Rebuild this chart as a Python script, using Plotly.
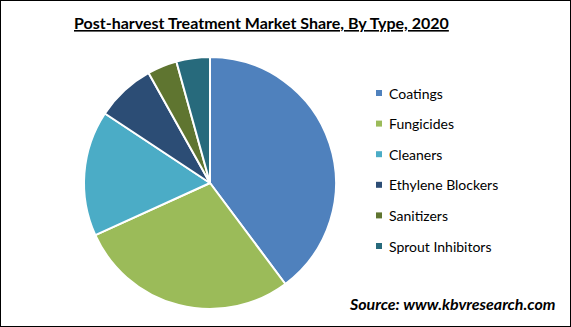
import plotly.graph_objects as go

title = "Post-harvest Treatment Market Share, By Type, 2020"
source = "Source: www.kbvresearch.com"
labels = ["Coatings", "Fungicides", "Cleaners", "Ethylene Blockers", "Sanitizers", "Sprout Inhibitors"]
values = [39.8, 28.4, 16.1, 7.6, 3.8, 4.3]
colors = ["#4F81BD", "#9BBB59", "#4BACC6", "#2C4D75", "#5F7530", "#276A7C"]

W, H = 571, 327
fig = go.Figure()
fig.add_trace(go.Pie(
    labels=labels, values=values, sort=False, direction="clockwise", rotation=0,
    marker=dict(colors=colors, line=dict(color="white", width=2)),
    textinfo="none", hoverinfo="label+percent", showlegend=False,
    domain=dict(x=[84 / W, 336 / W], y=[(H - 309) / H, (H - 57) / H]),
))

shapes = [dict(type="rect", xref="paper", yref="paper", x0=0, y0=0, x1=1, y1=1,
               line=dict(color="black", width=2))]
annotations = [
    dict(text="<u><b>" + title + "</b></u>", x=261 / W, y=1 - 23 / H, xref="paper", yref="paper",
         xanchor="center", yanchor="middle", showarrow=False,
         font=dict(family="Lato", size=16, color="black")),
    dict(text="<b><i>" + source + "</i></b>", x=558 / W, y=1 - 303 / H, xref="paper", yref="paper",
         xanchor="right", yanchor="middle", showarrow=False,
         font=dict(family="Lato", size=16, color="black")),
]
ly0, lgap = 93, 30.6
for i, (lab, col) in enumerate(zip(labels, colors)):
    yc = ly0 + i * lgap
    shapes.append(dict(type="rect", xref="paper", yref="paper",
                       x0=376 / W, x1=382 / W, y0=1 - (yc + 3) / H, y1=1 - (yc - 3) / H,
                       fillcolor=col, line=dict(width=0)))
    annotations.append(dict(text=lab, x=387 / W, y=1 - yc / H, xref="paper", yref="paper",
                            xanchor="left", yanchor="middle", showarrow=False,
                            font=dict(family="Lato", size=14, color="black")))

fig.update_layout(width=W, height=H, margin=dict(l=0, r=0, t=0, b=0),
                  paper_bgcolor="white", plot_bgcolor="white",
                  shapes=shapes, annotations=annotations)
fig.write_html("out.html")
